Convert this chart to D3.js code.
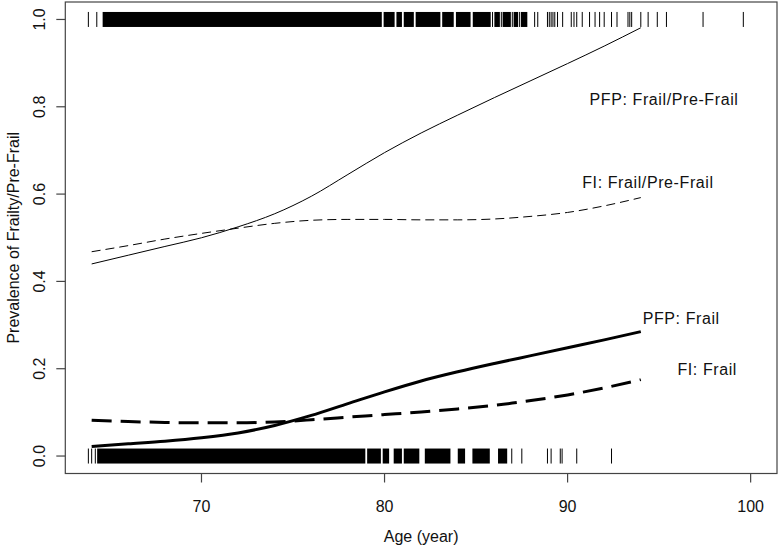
<!DOCTYPE html>
<html>
<head>
<meta charset="utf-8">
<script src="https://cdn.jsdelivr.net/npm/d3@7"></script>
<style>
  body { margin: 0; background: #fff; }
  text { font-family: "Liberation Sans", Arial, sans-serif; fill: #111; }
</style>
</head>
<body>
<svg id="chart"></svg>
<script>
// Curve data: predicted prevalence by age
const ages = [64, 66, 68, 70, 72, 74, 76, 78, 80, 82, 84, 86, 88, 90, 92, 94];
const pfpFrailPre = [0.44, 0.46, 0.48, 0.50, 0.525, 0.555, 0.595, 0.645, 0.695, 0.74, 0.781, 0.821, 0.86, 0.899, 0.939, 0.981];
const fiFrailPre  = [0.468, 0.482, 0.497, 0.51, 0.522, 0.533, 0.54, 0.542, 0.542, 0.541, 0.541, 0.543, 0.549, 0.558, 0.573, 0.592];
const pfpFrail    = [0.022, 0.028, 0.034, 0.042, 0.053, 0.07, 0.093, 0.12, 0.147, 0.172, 0.193, 0.212, 0.23, 0.248, 0.266, 0.285];
const fiFrail     = [0.082, 0.079, 0.077, 0.076, 0.076, 0.078, 0.083, 0.089, 0.095, 0.101, 0.108, 0.116, 0.127, 0.14, 0.156, 0.175];

// Rug: dense age spans (many overlapping ticks) and single ticks
const rugTopSpans = [[64.6, 79.85], [79.95, 80.55], [80.65, 80.95], [81.05, 81.6], [81.7, 83.05],
  [83.15, 83.78], [83.9, 84.7], [84.82, 85.8], [86.0, 86.3], [86.45, 86.9], [87.05, 87.3], [87.45, 87.8]];
const rugTopAges = [63.82, 64.28, 85.9, 86.38, 86.98, 87.38, 88.2, 88.37, 88.9, 89.0, 89.1, 89.2, 89.3, 89.45,
  89.73, 90.2, 90.35, 90.5, 90.8, 91.2, 91.5, 91.75, 92.0, 92.4, 92.7, 93.3, 93.4, 93.5, 94.0, 94.4,
  94.9, 95.4, 97.4, 99.6];
const rugBottomSpans = [[64.3, 78.95], [79.05, 79.8], [79.9, 80.25], [80.5, 80.95], [81.05, 81.9],
  [82.2, 83.6], [84.0, 84.4], [84.8, 85.75], [86.2, 86.7]];
const rugBottomAges = [63.82, 64.0, 64.2, 86.95, 87.5, 88.9, 89.1, 89.6, 89.7, 90.5, 92.4];

const xTicks = [70, 80, 90, 100];
const yTicks = [0.0, 0.2, 0.4, 0.6, 0.8, 1.0];

const series = [
  { values: pfpFrailPre, width: 1, dash: null, label: "PFP: Frail/Pre-Frail", lx: 91.2, ly: 0.817 },
  { values: fiFrailPre, width: 1, dash: "9,5", label: "FI: Frail/Pre-Frail", lx: 90.8, ly: 0.627 },
  { values: pfpFrail, width: 3, dash: null, label: "PFP: Frail", lx: 94.1, ly: 0.315 },
  { values: fiFrail, width: 3, dash: "20,9", label: "FI: Frail", lx: 96.0, ly: 0.199 }
];

const W = 780, H = 548;
const box = { left: 65.3, right: 777, top: 2, bottom: 473.5 };

const svg = d3.select("#chart").attr("width", W).attr("height", H);

// R-style axis limits: data range extended by 4%
const x = d3.scaleLinear().domain([64 - 0.04 * 36, 100 + 0.04 * 36]).range([box.left, box.right]);
const y = d3.scaleLinear().domain([-0.04, 1.04]).range([box.bottom, box.top]);

// Rug marks
function drawRug(spans, singles, val) {
  svg.selectAll(null).data(spans).enter().append("rect")
    .attr("x", d => x(d[0]))
    .attr("width", d => x(d[1]) - x(d[0]))
    .attr("y", y(val) - 7.5)
    .attr("height", 15)
    .attr("fill", "#000");
  svg.selectAll(null).data(singles).enter().append("line")
    .attr("x1", d => x(d)).attr("x2", d => x(d))
    .attr("y1", y(val) - 7.5).attr("y2", y(val) + 7.5)
    .attr("stroke", "#000").attr("stroke-width", 1);
}
drawRug(rugTopSpans, rugTopAges, 1);
drawRug(rugBottomSpans, rugBottomAges, 0);

// Curves
const line = d3.line().curve(d3.curveMonotoneX)
  .x((d, i) => x(ages[i]))
  .y(d => y(d));

series.forEach(s => {
  svg.append("path")
    .attr("d", line(s.values))
    .attr("fill", "none")
    .attr("stroke", "#000")
    .attr("stroke-width", s.width)
    .attr("stroke-dasharray", s.dash);
  svg.append("text")
    .attr("x", x(s.lx))
    .attr("y", y(s.ly))
    .attr("text-anchor", "start")
    .attr("dy", "0.35em")
    .style("font-size", "16px")
    .style("letter-spacing", "0.6px")
    .text(s.label);
});

// Box
svg.append("rect")
  .attr("x", box.left).attr("y", box.top)
  .attr("width", box.right - box.left).attr("height", box.bottom - box.top)
  .attr("fill", "none").attr("stroke", "#444").attr("stroke-width", 1.2);

// X axis
const xAxis = svg.append("g").attr("transform", `translate(0,${box.bottom})`);
xAxis.selectAll("line").data(xTicks).enter().append("line")
  .attr("x1", d => x(d)).attr("x2", d => x(d))
  .attr("y1", 0).attr("y2", 9)
  .attr("stroke", "#444").attr("stroke-width", 1.2);
xAxis.selectAll("text").data(xTicks).enter().append("text")
  .attr("x", d => x(d)).attr("y", 38)
  .attr("text-anchor", "middle")
  .style("font-size", "16px")
  .text(d => d);

// Y axis
const yAxis = svg.append("g").attr("transform", `translate(${box.left},0)`);
yAxis.selectAll("line").data(yTicks).enter().append("line")
  .attr("x1", -9).attr("x2", 0)
  .attr("y1", d => y(d)).attr("y2", d => y(d))
  .attr("stroke", "#444").attr("stroke-width", 1.2);
yAxis.selectAll("text").data(yTicks).enter().append("text")
  .attr("transform", d => `translate(-20,${y(d)}) rotate(-90)`)
  .attr("text-anchor", "middle")
  .style("font-size", "16px")
  .text(d => d.toFixed(1));

// Axis titles
svg.append("text")
  .attr("x", (box.left + box.right) / 2).attr("y", 542)
  .attr("text-anchor", "middle")
  .style("font-size", "16px")
  .text("Age (year)");

svg.append("text")
  .attr("transform", `translate(19,${(box.top + box.bottom) / 2}) rotate(-90)`)
  .attr("text-anchor", "middle")
  .style("font-size", "16px")
  .text("Prevalence of Frailty/Pre-Frail");
</script>
</body>
</html>
